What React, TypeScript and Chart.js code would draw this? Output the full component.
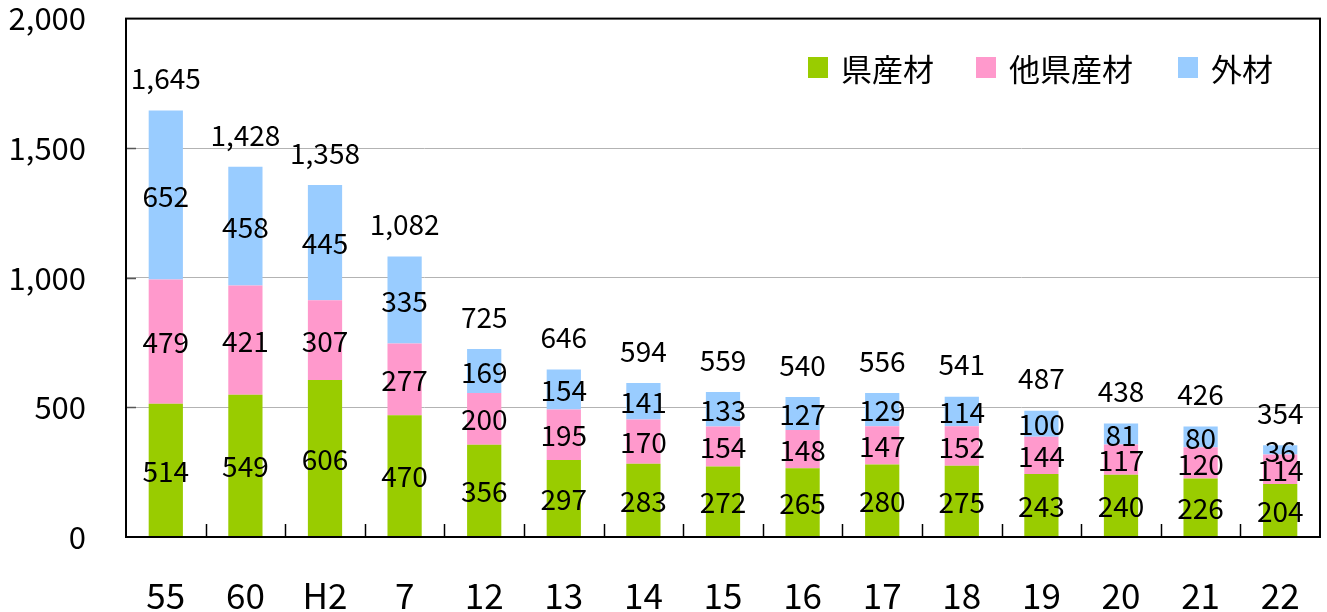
import React, { useEffect, useRef } from "react";
import { Chart, registerables } from "chart.js";

Chart.register(...registerables);

const categories = ["55", "60", "H2", "7", "12", "13", "14", "15", "16", "17", "18", "19", "20", "21", "22"];
const prefWood = [514, 549, 606, 470, 356, 297, 283, 272, 265, 280, 275, 243, 240, 226, 204];
const otherPrefWood = [479, 421, 307, 277, 200, 195, 170, 154, 148, 147, 152, 144, 117, 120, 114];
const importedWood = [652, 458, 445, 335, 169, 154, 141, 133, 127, 129, 114, 100, 81, 80, 36];
const totals = [1645, 1428, 1358, 1082, 725, 646, 594, 559, 540, 556, 541, 487, 438, 426, 354];
const seriesNames = ["県産材", "他県産材", "外材"];
const seriesColors = ["#99CC00", "#FF99CC", "#99CCFF"];
const yMin = 0;
const yMax = 2000;
const yStep = 500;

const FONT = '"Noto Sans CJK JP", "Noto Sans", sans-serif';

const fmt = (v: number) => v.toLocaleString("en-US");

const boxPlugin = {
  id: "boxPlugin",
  afterDatasetsDraw(chart: any) {
    const { ctx, chartArea } = chart;
    const { left, right, top, bottom } = chartArea;
    const y = chart.scales.y;
    ctx.save();
    // inward ticks on x axis between categories
    ctx.strokeStyle = "#000";
    ctx.lineWidth = 1.5;
    const n = categories.length;
    const cw = (right - left) / n;
    for (let i = 1; i < n; i++) {
      const px = Math.round(left + i * cw) + 0.5;
      ctx.beginPath();
      ctx.moveTo(px, bottom);
      ctx.lineTo(px, bottom - 13);
      ctx.stroke();
    }
    // inward ticks on y axis
    ctx.strokeStyle = "#555";
    ctx.lineWidth = 1.5;
    for (let v = yMin + yStep; v < yMax; v += yStep) {
      const py = Math.round(y.getPixelForValue(v)) + 0.5;
      ctx.beginPath();
      ctx.moveTo(left, py);
      ctx.lineTo(left + 10, py);
      ctx.stroke();
    }
    // frame
    ctx.strokeStyle = "#000";
    ctx.lineWidth = 2;
    ctx.strokeRect(left, top, right - left, bottom - top);

    // value labels
    ctx.fillStyle = "#000";
    ctx.font = `28px ${FONT}`;
    ctx.textAlign = "center";
    ctx.textBaseline = "middle";
    chart.data.datasets.forEach((ds: any, di: number) => {
      const meta = chart.getDatasetMeta(di);
      meta.data.forEach((el: any, i: number) => {
        const cy = (el.y + el.base) / 2;
        ctx.fillText(String(ds.data[i]), el.x, cy + 1);
      });
    });
    // totals
    const topMeta = chart.getDatasetMeta(chart.data.datasets.length - 1);
    topMeta.data.forEach((el: any, i: number) => {
      ctx.fillText(fmt(totals[i]), el.x, el.y - 32);
    });

    // legend
    ctx.font = `31px ${FONT}`;
    ctx.textAlign = "left";
    const legendX = [808, 976, 1178];
    const legendY = 68;
    seriesNames.forEach((name, i) => {
      ctx.fillStyle = seriesColors[i];
      ctx.fillRect(legendX[i], legendY - 11, 20, 21);
      ctx.fillStyle = "#000";
      ctx.fillText(name, legendX[i] + 33, legendY + 1);
    });
    ctx.restore();
  },
};

export default function App() {
  const ref = useRef<HTMLCanvasElement>(null);
  useEffect(() => {
    if (!ref.current) return;
    const chart = new Chart(ref.current, {
      type: "bar",
      data: {
        labels: categories,
        datasets: [
          { label: seriesNames[0], data: prefWood, backgroundColor: seriesColors[0] },
          { label: seriesNames[1], data: otherPrefWood, backgroundColor: seriesColors[1] },
          { label: seriesNames[2], data: importedWood, backgroundColor: seriesColors[2] },
        ],
      },
      options: {
        animation: false,
        responsive: true,
        maintainAspectRatio: false,
        layout: { padding: { top: 18, right: 7, left: 0, bottom: 0 } },
        datasets: {
          bar: { barPercentage: 0.43, categoryPercentage: 1, borderWidth: 0 },
        },
        plugins: {
          legend: { display: false },
          tooltip: { enabled: false },
        },
        scales: {
          x: {
            stacked: true,
            grid: { display: false, drawTicks: true, tickLength: 34 },
            border: { display: false },
            ticks: {
              color: "#000",
              font: { family: FONT, size: 35 },
              padding: 4,
              maxRotation: 0,
              autoSkip: false,
            },
            afterFit: (s: any) => {
              s.height = 75;
            },
          },
          y: {
            stacked: true,
            min: yMin,
            max: yMax,
            grid: { color: "#b3b3b3", lineWidth: 1, drawTicks: true, tickLength: 40, tickColor: "transparent" },
            border: { display: false },
            ticks: {
              stepSize: yStep,
              color: "#000",
              font: { family: FONT, size: 31 },
              padding: 0,
              callback: (v: any) => fmt(Number(v)),
            },
            afterFit: (s: any) => {
              s.width = 126;
            },
          },
        },
      },
      plugins: [boxPlugin],
    });
    return () => chart.destroy();
  }, []);
  return (
    <div style={{ position: "absolute", left: 0, top: 0, width: 1327, height: 612, background: "#fff" }}>
      <canvas ref={ref} />
    </div>
  );
}
